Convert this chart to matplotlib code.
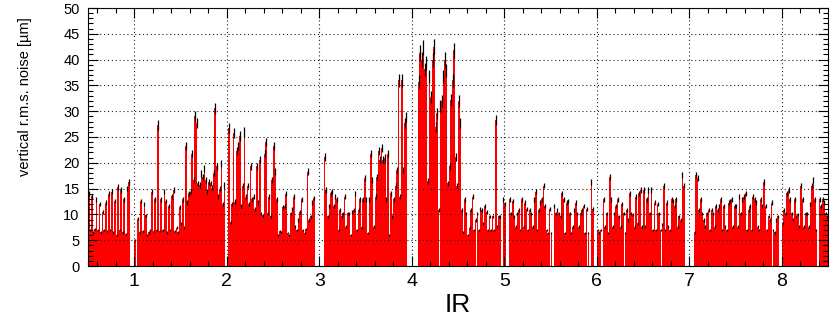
import numpy as np
import matplotlib
matplotlib.use('Agg')
import matplotlib.pyplot as plt
from matplotlib.ticker import MultipleLocator

plt.rcParams['font.family'] = ['Liberation Sans', 'DejaVu Sans']

# r.m.s. noise per BPM bin [um], one list per octant (IR k covers k-0.5 .. k+0.5)
ir1 = [14, 7, 13.5, 6.5, 7.2, 12.9, 7, 12, 6.5, 10.4, 7, 12.3, 6.8, 14, 7,
       14.4, 6.5, 12.6, 6, 15.3, 7, 14.7, 6.5, 12.9, 6.2, 15, 16.3, 0, 0, 0,
       5, 0, 9.2, 6.5, 12.6, 6.8, 12, 9.8, 6, 6.5, 7, 14.4, 6.8, 12.9, 7,
       27.3, 6.8, 12.9, 7, 14.4, 12.6, 6.5, 11.7, 7, 13.5, 14.7, 6.8, 7.4, 6.5, 11.4]
ir2 = [8.3, 12.9, 7.5, 23.2, 12.3, 14.1, 14.4, 21.8, 16.7, 29.0, 27.7, 16, 15.7, 17.9, 17.3,
       18.9, 16.7, 14.4, 16.3, 16, 15.2, 18, 30.6, 19.3, 13.4, 15, 19.9, 12, 15.7, 0,
       0, 26.7, 8.5, 12, 25.8, 12.5, 22.2, 23.2, 25.2, 11.7, 15.6, 26, 13.4, 15.6, 12,
       19.3, 12.9, 13.4, 11, 19.3, 12.3, 20.6, 10.2, 9.8, 21.8, 24, 10.2, 13.4, 9.6, 16.7]
ir3 = [23.2, 18.3, 12.9, 6, 6.8, 6.6, 11.5, 11.7, 14, 6.4, 6, 10.2, 11.1, 13.4, 7.6,
       7, 8.9, 10.5, 12.9, 7, 6.4, 7.2, 18.3, 8.9, 9.6, 12.3, 13.2, 0, 0, 0,
       0, 0, 0, 21.1, 14.7, 9.6, 11.7, 14.1, 14.4, 11.7, 13.4, 12.9, 7, 10.9, 9.6,
       10.2, 13.4, 7.6, 10.2, 10.2, 6, 10.5, 10.9, 14.1, 7, 10.9, 12.9, 7.5, 12.9, 17]
ir4 = [12.9, 6.4, 12.9, 21.8, 16.7, 7.6, 13.4, 17.3, 22.2, 20.6, 22.9, 20.6, 20.9, 12.9, 21.8,
       6, 14.1, 9.6, 12.9, 15.6, 18.6, 36, 13.4, 36, 18.6, 27.7, 28.9, 0, 0, 0,
       0, 0, 0, 0, 35.7, 41.3, 40, 42.3, 38.1, 39.3, 16.5, 36.7, 32.8, 39.9, 42.5,
       27, 29.6, 10.9, 31, 32, 36.7, 40, 37.9, 16, 19.3, 32.2, 36, 41.8, 21.1, 15.6]
ir5 = [32, 27.7, 10.9, 6.6, 12.9, 10.2, 6, 7.4, 10.9, 13.4, 7, 8.9, 10.2, 7, 11.1,
       10.9, 8.3, 11.7, 10.5, 7, 9.6, 7, 9.6, 7, 28.3, 7.6, 9.6, 9.6, 0, 12.9,
       12, 0, 0, 12.9, 10.2, 12.6, 9.6, 7.6, 10.2, 10.9, 7, 12.9, 7.6, 12.3, 11.1,
       7, 10.9, 10.2, 7.6, 12.9, 14.4, 7, 10.9, 12.3, 12.9, 15.6, 11.7, 7, 6.4, 11.1]
ir6 = [6.4, 0, 11.7, 10.2, 10.9, 10.2, 9.6, 14.1, 12.9, 6.4, 12.3, 12.6, 10.2, 6.4, 7.6,
       10.9, 12.3, 10.2, 7.6, 10.2, 10.9, 11.7, 6.4, 11, 6.4, 0, 16.3, 11, 0, 0,
       7, 6.5, 7, 0, 12.9, 7.6, 10.2, 6.4, 17.2, 12.9, 7.6, 10.2, 11.7, 12.9, 9.6,
       7.6, 12, 10.2, 6.4, 10.9, 8.9, 14.1, 10.2, 10, 7.6, 13.4, 8.3, 14.1, 14.7, 7.6]
ir7 = [14.7, 7.6, 12.9, 14.7, 10.2, 14.7, 7, 12.3, 7, 12, 10.2, 7, 8, 15.6, 7,
       12.3, 7.6, 7, 12.9, 12.6, 11.7, 12.9, 7.6, 9.6, 8.9, 17.6, 15.6, 0, 0, 0,
       0, 0, 0, 6.5, 17.6, 17, 10.9, 12.9, 10.2, 8.9, 7.6, 10.2, 10.9, 7, 10.9,
       10.2, 7.6, 11.7, 10.9, 11.7, 12.9, 7, 11.7, 7.6, 7, 12.3, 12.6, 12.9, 7.6, 11.7]
ir8 = [11.7, 7.6, 13.4, 10.2, 12.9, 13.4, 14.1, 7, 10.9, 11.7, 7, 13.4, 12.9, 12.3, 7.6,
       7, 12.9, 11.7, 16.3, 11.7, 7, 9.6, 8.9, 12.3, 7, 6.5, 8.9, 9.6, 0, 0,
       8.3, 10.9, 10.2, 14.1, 14.7, 12.9, 10.2, 9, 12.9, 9.6, 10, 7.6, 15.6, 12.9, 7.6,
       10.2, 10.2, 7.6, 12, 15.6, 16.7, 12.9, 7, 0, 12.9, 11.7, 12.9, 12.3, 10.2, 9.6]

rel_err = 0.035  # relative uncertainty on each bin

noise = np.array(ir1 + ir2 + ir3 + ir4 + ir5 + ir6 + ir7 + ir8)
edges = np.linspace(0.5, 8.5, len(noise) + 1)
centers = 0.5 * (edges[:-1] + edges[1:])
width = edges[1] - edges[0]

fig = plt.figure(figsize=(8.33, 3.23), dpi=100)
ax = fig.add_axes([88 / 833, 57 / 323, 740 / 833, 258 / 323])

ax.bar(centers, noise, width=width, color='#ff0000', linewidth=0, zorder=2)
filled = noise > 0
ax.errorbar(centers[filled], noise[filled], yerr=rel_err * noise[filled],
            fmt='none', ecolor='black', elinewidth=0.9, capsize=0, zorder=4)

ax.set_xlim(0.5, 8.5)
ax.set_ylim(0, 50)
ax.xaxis.set_major_locator(MultipleLocator(1))
ax.xaxis.set_minor_locator(MultipleLocator(0.2))
ax.yaxis.set_major_locator(MultipleLocator(5))
ax.yaxis.set_minor_locator(MultipleLocator(1))

ax.grid(True, which='major', color='#222222', linestyle=(0, (1, 2.5)), linewidth=0.8, zorder=3)
ax.set_axisbelow(False)

ax.tick_params(which='both', direction='in', top=True, right=True, width=0.8)
ax.tick_params(which='major', length=7)
ax.tick_params(which='minor', length=3.5)
ax.tick_params(axis='x', labelsize=14, pad=5)
ax.tick_params(axis='y', labelsize=10.5, pad=6)
for s in ax.spines.values():
    s.set_linewidth(0.8)

ax.set_xlabel('IR', fontsize=19, labelpad=2)
fig.text(25 / 833, 1 - 17 / 323, 'vertical r.m.s. noise [µm]', rotation=90,
         ha='center', va='top', fontsize=10.5)

fig.savefig('out.png', dpi=100)
